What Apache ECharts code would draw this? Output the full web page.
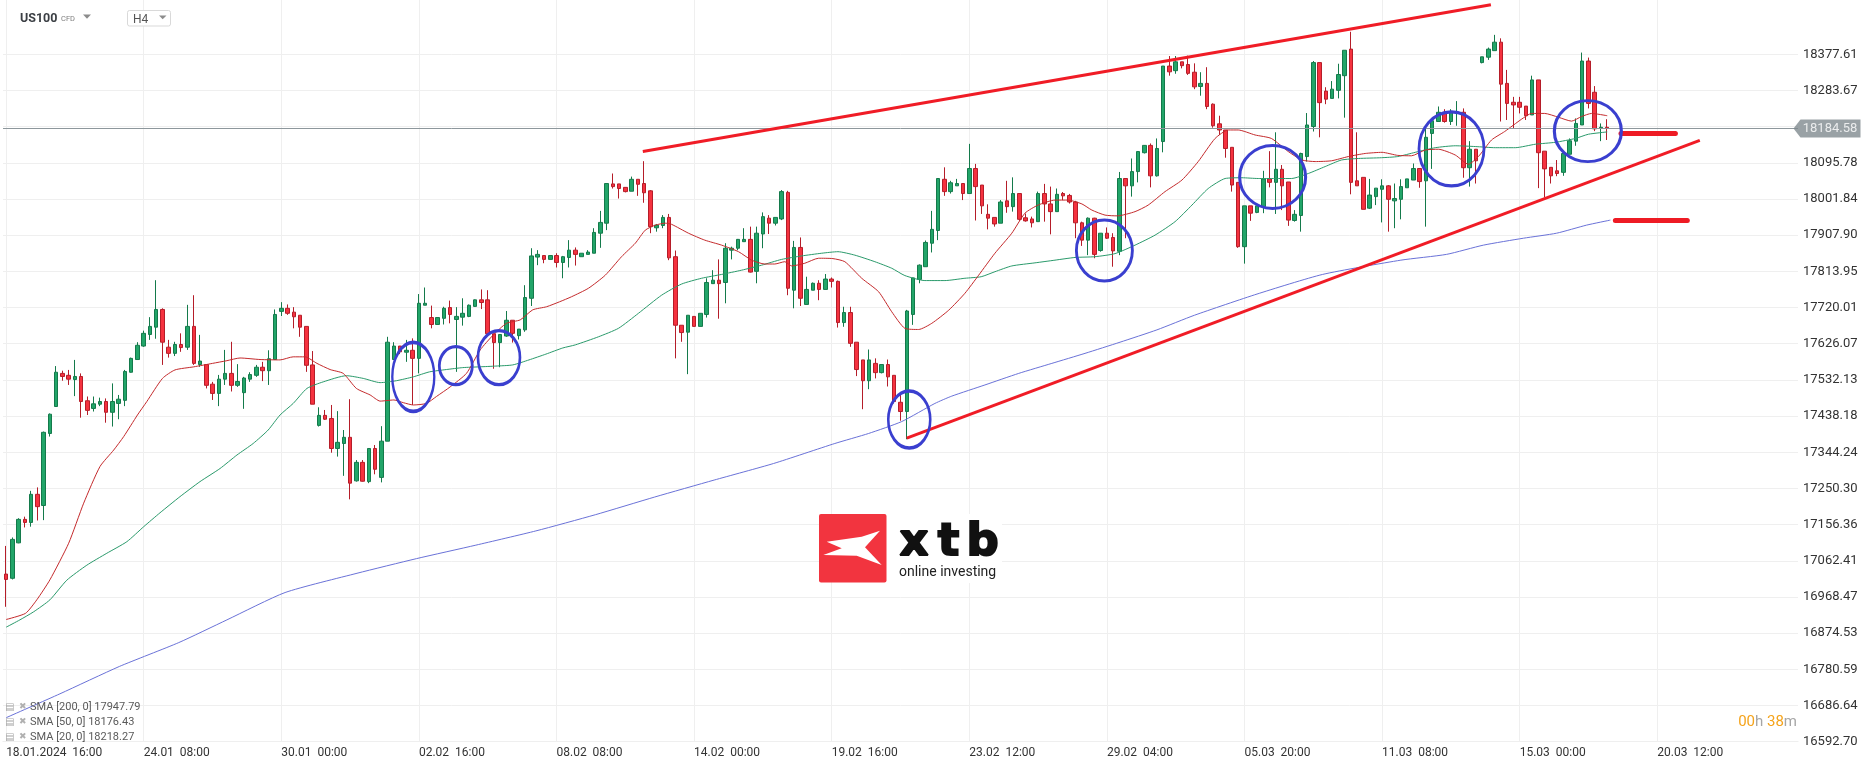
<!DOCTYPE html>
<html><head><meta charset="utf-8">
<script src="https://cdn.jsdelivr.net/npm/echarts@6/dist/echarts.min.js"></script>
<style>html,body{margin:0;padding:0;background:#fff}#c{width:1866px;height:767px}</style>
</head><body><div id="c"></div>
<script>
// ---------- DATA ----------
const tickLabels = ["18.01.2024  16:00","24.01  08:00","30.01  00:00","02.02  16:00","08.02  08:00","14.02  00:00","19.02  16:00","23.02  12:00","29.02  04:00","05.03  20:00","11.03  08:00","15.03  00:00","20.03  12:00"];
const yTicks = [16592.70,16686.64,16780.59,16874.53,16968.47,17062.41,17156.36,17250.30,17344.24,17438.18,17532.13,17626.07,17720.01,17813.95,17907.90,18001.84,18095.78,18189.73,18283.67,18377.61];
const currentPrice = 18184.58;

const opens = [17028,17017,17109,17170,17162,17235,17206,17393,17463,17549,
17544,17533,17541,17478,17458,17469,17476,17448,17471,17479,
17552,17585,17620,17650,17669,17715,17617,17601,17624,17617,
17671,17572,17572,17521,17497,17534,17549,17518,17499,17534,
17544,17565,17556,17585,17710,17718,17708,17700,17671,17571,
17414,17440,17432,17354,17367,17383,17270,17318,17268,17354,
17279,17373,17585,17620,17604,17609,17588,17726,17694,17676,
17692,17720,17689,17695,17697,17723,17740,17740,17652,17629,
17646,17687,17647,17662,17744,17851,17855,17845,17855,17837,
17850,17869,17852,17858,17861,17913,17939,18041,18041,18032,
18022,18053,18042,18023,17927,17933,17954,17852,17674,17656,
17697,17671,17702,17782,17791,17785,17869,17874,17891,17897,
17814,17911,17952,17939,17950,18019,17765,17876,17728,17765,
17783,17767,17794,17788,17681,17707,17630,17584,17530,17575,
17551,17572,17544,17474,17450,17702,17793,17826,17887,17920,
18053,18021,18036,18042,18016,18081,18038,17962,17954,17939,
17997,17982,18016,17953,17950,17943,18016,17989,17969,18016,
18011,17994,17940,17895,17952,17868,17913,17902,17866,18055,
18036,18073,18122,18141,18062,18151,18347,18335,18358,18351,
18331,18294,18302,18248,18197,18181,18136,18045,17878,17984,
17967,17982,18054,18045,18079,18046,17946,17959,18112,18190,
18356,18282,18263,18284,18322,18391,18049,18058,17978,18008,
18027,18036,17997,18001,18031,18051,18081,18049,18172,18203,
18227,18203,18224,18227,18083,18131,18356,18370,18387,18409,
18302,18253,18253,18243,18220,18311,18126,18084,18075,18071,
18118,18152,18194,18360,18279,18185,18188];
const closes = [17014,17118,17170,17162,17235,17203,17396,17443,17552,17541,
17534,17541,17476,17453,17470,17476,17448,17476,17482,17554,
17588,17622,17653,17671,17715,17630,17601,17624,17616,17671,
17575,17581,17518,17497,17534,17549,17518,17528,17537,17546,
17565,17556,17587,17702,17718,17705,17696,17669,17570,17469,
17440,17430,17354,17370,17383,17264,17318,17269,17354,17300,
17373,17630,17620,17605,17609,17588,17731,17731,17676,17694,
17718,17702,17697,17705,17726,17740,17733,17652,17629,17650,
17687,17653,17664,17746,17854,17858,17845,17855,17837,17852,
17869,17858,17861,17864,17915,17941,18042,18034,18029,18021,
18053,18040,18018,17930,17934,17954,17849,17674,17655,17700,
17671,17705,17785,17791,17782,17874,17874,17897,17897,17812,
17913,17956,17939,17954,18021,17770,17876,17744,17767,17783,
17767,17794,17788,17681,17707,17627,17559,17530,17584,17551,
17572,17540,17476,17450,17711,17797,17830,17889,17923,18055,
18021,18044,18042,18016,18081,18034,17984,17952,17937,17994,
17982,18016,17949,17945,17940,18016,17989,17969,18014,18010,
17994,17940,17895,17952,17858,17913,17900,17867,18055,18036,
18073,18125,18141,18062,18133,18347,18332,18358,18348,18328,
18293,18302,18242,18192,18181,18133,18038,17878,17984,17965,
17984,18054,18045,18079,18036,17947,17962,18120,18194,18356,
18252,18261,18287,18325,18388,18045,18036,17975,18012,18030,
18036,18001,18003,18034,18054,18081,18047,18162,18205,18227,
18203,18227,18227,18083,18131,18101,18371,18391,18409,18300,
18250,18246,18240,18218,18311,18122,18080,18062,18068,18120,
18153,18198,18360,18250,18184,18188,18185];
const lows = [16943,17014,17108,17149,17151,17167,17168,17385,17463,17530,
17519,17490,17434,17441,17450,17464,17421,17411,17430,17464,
17551,17585,17618,17636,17639,17571,17590,17594,17605,17610,
17571,17566,17510,17480,17464,17519,17502,17514,17457,17527,
17540,17529,17519,17584,17698,17701,17666,17644,17553,17469,
17411,17428,17343,17333,17283,17222,17268,17268,17264,17287,
17266,17373,17585,17599,17579,17467,17549,17726,17666,17675,
17676,17679,17553,17673,17695,17722,17716,17652,17561,17565,
17644,17629,17637,17657,17724,17830,17835,17845,17824,17796,
17824,17829,17852,17858,17861,17875,17921,18029,18003,18019,
18022,18010,17992,17913,17917,17926,17843,17588,17631,17547,
17671,17671,17694,17782,17691,17731,17845,17869,17891,17811,
17783,17874,17911,17933,17947,17752,17718,17724,17728,17765,
17739,17767,17772,17668,17670,17618,17542,17456,17508,17536,
17549,17515,17471,17426,17378,17675,17783,17826,17863,17895,
18010,18016,18036,17999,18016,17946,17963,17923,17930,17939,
17966,17969,17945,17943,17928,17943,17943,17910,17969,17999,
17990,17900,17880,17856,17848,17865,17898,17826,17856,17900,
18008,18045,18120,18032,18060,18123,18322,18327,18341,18324,
18287,18270,18235,18187,18168,18109,18021,17875,17834,17945,
17965,17965,18032,17963,17973,17932,17943,17917,18099,18177,
18162,18248,18263,18263,18213,18014,18036,17975,17976,17986,
17941,17917,17926,17949,18031,18051,18031,17930,18080,18203,
18200,18194,18192,18057,18034,18042,18354,18363,18387,18203,
18207,18185,18224,18207,18220,18030,18006,18042,18061,18062,
18118,18140,18194,18237,18178,18152,18155];
const highs = [17101,17123,17173,17177,17244,17253,17398,17445,17568,17556,
17558,17584,17549,17489,17489,17486,17484,17523,17493,17558,
17590,17630,17660,17695,17791,17718,17636,17631,17653,17727,
17752,17649,17573,17527,17545,17610,17631,17573,17540,17552,
17571,17579,17609,17715,17734,17728,17721,17700,17671,17607,
17461,17454,17467,17451,17402,17482,17324,17324,17354,17363,
17412,17644,17630,17620,17636,17640,17755,17772,17725,17694,
17722,17738,17721,17744,17728,17741,17767,17765,17652,17650,
17711,17687,17664,17778,17874,17869,17855,17855,17861,17854,
17895,17876,17861,17869,17926,17971,18042,18068,18041,18032,
18060,18053,18100,18025,17937,17960,17963,17868,17674,17700,
17697,17705,17796,17817,17845,17887,17878,17898,17926,17930,
17930,17967,17960,17954,18025,18023,17893,17902,17800,17785,
17791,17807,17798,17790,17722,17722,17630,17584,17611,17588,
17572,17585,17544,17497,17714,17797,17832,17894,17971,18055,
18084,18049,18054,18042,18145,18093,18038,17988,17954,17999,
18049,18058,18016,17964,17956,18021,18041,18034,18029,18020,
18015,17997,17943,17954,17953,17913,17928,17913,18072,18055,
18107,18126,18142,18146,18159,18347,18373,18373,18358,18374,
18354,18331,18344,18250,18218,18181,18136,18045,17984,17984,
17984,18075,18126,18175,18090,18046,17973,18122,18225,18360,
18356,18292,18308,18353,18388,18436,18175,18058,18054,18030,
18053,18038,18042,18053,18054,18094,18081,18185,18210,18242,
18235,18235,18256,18237,18152,18131,18371,18395,18428,18419,
18337,18267,18267,18243,18322,18311,18126,18084,18103,18122,
18159,18211,18382,18369,18295,18198,18209];

// SMA points: [candle index, price]
const sma20 = [[0,16910],[3.1,16926],[4.9,16961],[7,17013],[10,17108],[12.4,17212],[15,17307],[17.2,17350],[18.8,17385],[21,17441],[22.5,17476],[25,17536],[27,17558],[30,17566],[33,17575],[35.3,17582],[37.4,17589],[40.6,17585],[43.8,17584],[45.9,17592],[47.8,17592],[49.7,17575],[51.8,17559],[53.9,17549],[56,17510],[58.2,17493],[59.8,17477],[62,17480],[63.5,17473],[65.1,17467],[67.2,17471],[68.8,17489],[71,17514],[73.6,17549],[75.8,17610],[77.9,17649],[80,17679],[82.2,17688],[84.2,17714],[86.4,17722],[88.5,17735],[90.4,17748],[93.1,17770],[95.8,17804],[98.4,17852],[100.6,17887],[102.2,17921],[103.8,17934],[105.4,17939],[106.4,17936],[109.1,17913],[111.7,17895],[114.4,17882],[117.1,17865],[119.2,17843],[121.3,17833],[122.9,17833],[124.5,17839],[125.6,17828],[127.7,17835],[129.9,17848],[132.2,17847],[134.1,17839],[136.8,17796],[139.5,17761],[141.6,17709],[143.7,17666],[145.9,17663],[148,17679],[150.7,17713],[153.3,17757],[155.5,17804],[158.1,17861],[160.8,17913],[162.9,17965],[165,17986],[167.7,17999],[169.8,17999],[172,17989],[173.6,17973],[175.7,17960],[177.7,17958],[180.5,17969],[182.6,17986],[185.3,18021],[188,18051],[190.6,18099],[193.3,18159],[195.4,18181],[197,18181],[199.7,18168],[202.3,18159],[205,18125],[207.2,18103],[209.3,18099],[211.9,18101],[214.6,18112],[217.3,18120],[220,18123],[222.5,18115],[224.7,18114],[226.9,18129],[229,18131],[231.7,18116],[233.8,18092],[235.4,18112],[237.5,18155],[239.6,18177],[242.3,18209],[243.9,18224],[246,18224],[248.2,18214],[250.3,18204],[251.9,18216],[253.5,18224],[256,18218]];
const sma50 = [[0,16890],[2.2,16909],[4.4,16930],[7,16961],[9.7,17012],[12.9,17051],[16.1,17082],[19.3,17112],[22,17151],[24.6,17187],[27.8,17229],[31,17268],[34.2,17302],[36.9,17337],[39.5,17367],[41.9,17402],[43.8,17441],[45.9,17471],[48.1,17510],[50.7,17527],[54.4,17543],[57.1,17536],[59.8,17525],[62.4,17530],[65.1,17540],[67.7,17553],[70.4,17559],[73,17564],[75.7,17566],[78.3,17568],[81,17571],[83.6,17584],[86.3,17599],[89,17615],[91,17623],[94.7,17644],[97.9,17666],[101.1,17705],[104.8,17752],[108,17781],[111.2,17796],[114.4,17806],[117.6,17817],[120.8,17830],[124,17845],[127.2,17854],[130.4,17861],[133,17865],[135.7,17856],[138.9,17839],[141.6,17822],[143.7,17803],[146.9,17790],[150.1,17790],[153.3,17796],[155.9,17800],[158.1,17813],[160.8,17828],[164.5,17836],[167.7,17843],[170.9,17850],[174.1,17852],[177.3,17860],[180.5,17882],[183.7,17908],[186.9,17943],[189.6,17986],[192.2,18029],[194.9,18055],[197.6,18057],[200.2,18055],[202.9,18055],[205.5,18055],[208.2,18068],[210.9,18086],[213.5,18103],[216.2,18107],[219.9,18109],[222.5,18112],[225.3,18123],[228.5,18135],[231.7,18140],[234.9,18138],[238.1,18135],[241.3,18135],[244.5,18144],[247.7,18149],[250.9,18159],[253,18170],[256,18176]];
const sma200 = [[0,16655],[8.6,16717],[18.1,16788],[27.6,16850],[35.3,16909],[44.6,16980],[56.1,17030],[65.6,17068],[75.1,17103],[84.7,17140],[94.2,17182],[103.7,17228],[113.2,17272],[122.7,17315],[132.5,17367],[137.9,17393],[143.2,17424],[148.5,17471],[151.2,17490],[156.5,17519],[161.9,17549],[167.2,17575],[172.5,17601],[178.1,17630],[184,17662],[190,17700],[200,17755],[210.5,17806],[223,17843],[230.3,17858],[236.2,17882],[242.6,17900],[247.9,17913],[252.7,17934],[256.5,17947]];
const legendRows = ["SMA [200, 0] 17947.79","SMA [50, 0] 18176.43","SMA [20, 0] 18218.27"];

// Drawn annotations (in data units)
const trendLines = [[[101.8,18125],[237.4,18506]],[[144.0,17381],[270.8,18154]]];
const levelLines = [[[258.2,18172],[266.9,18172]],[[257.3,17946],[268.8,17946]]];
const circleCenters = [[65.1,17540],[71.9,17569],[78.8,17590],[144.4,17429],[175.6,17868],[202.5,18059],[231.1,18132],[252.9,18178]];

// ---------- LAYOUT / STYLE ----------
const slotCount = 287;
const tickStep = 22;
const circleSizes = [[42,69],[33,38],[42,54],[42,57],[56,61],[66,63],[65,74],[67,61]];
const categories = Array.from({length: slotCount}, (_, i) => 'c' + i);
const candles = opens.map((o, i) => [o, closes[i], lows[i], highs[i]]);
const vGrid = tickLabels.map((_, k) => k * tickStep);
const ellipsePath = 'path://M50,0 C77.6,0 100,22.4 100,50 C100,77.6 77.6,100 50,100 C22.4,100 0,77.6 0,50 C0,22.4 22.4,0 50,0 Z';
const F = 'Roboto, "Noto Sans", sans-serif';

const chart = echarts.init(document.getElementById('c'), null, {renderer: 'canvas'});

const graphicEls = [
  // header
  {type:'text', x:20, y:19, z:100, style:{text:'US100', font:'bold 12.5px ' + F, fill:'#3b3f44', verticalAlign:'middle'}},
  {type:'text', x:61, y:19.5, z:100, style:{text:'CFD', font:'7.5px ' + F, fill:'#7d7d7d', verticalAlign:'middle'}},
  {type:'polygon', z:100, shape:{points:[[83,14.5],[91,14.5],[87,18.8]]}, style:{fill:'#8c8c8c'}},
  {type:'rect', z:100, shape:{x:127.5, y:10.5, width:43, height:15.5, r:2}, style:{fill:'#fff', stroke:'#d9d9d9', lineWidth:1}},
  {type:'text', x:133, y:19.5, z:101, style:{text:'H4', font:'12px ' + F, fill:'#555', verticalAlign:'middle'}},
  {type:'polygon', z:101, shape:{points:[[159,15.5],[166.5,15.5],[162.7,19.3]]}, style:{fill:'#8c8c8c'}},
  // logo
  {type:'rect', z:100, shape:{x:886, y:514, width:116, height:69}, style:{fill:'#fff'}},
  {type:'rect', z:101, shape:{x:819, y:514, width:67.5, height:68.5, r:2}, style:{fill:'#f2343f'}},
  {type:'polygon', z:102, shape:{points:[[826.7,541.7],[861.7,536.7],[880,530.7],[865,547.3],[881.7,565],[856.7,555.7],[823.3,555],[841.7,548.3]]}, style:{fill:'#fff'}},
  {type:'text', x:914, y:543, z:102, style:{text:'x', font:'bold 45px "DejaVu Sans"', fill:'#111', stroke:'#111', lineWidth:2, align:'center', verticalAlign:'middle'}},
  {type:'text', x:948.5, y:543, z:102, style:{text:'t', font:'bold 45px "DejaVu Sans"', fill:'#111', stroke:'#111', lineWidth:2, align:'center', verticalAlign:'middle'}},
  {type:'text', x:982.5, y:543, z:102, style:{text:'b', font:'bold 45px "DejaVu Sans"', fill:'#111', stroke:'#111', lineWidth:2, align:'center', verticalAlign:'middle'}},
  {type:'text', x:899, y:572, z:102, style:{text:'online investing', font:'14px ' + F, fill:'#222', verticalAlign:'middle'}},
  // countdown
  {type:'text', x:1797, y:722, z:100, style:{text:'{o|00}{g|h} {o|38}{g|m}', align:'right', verticalAlign:'middle', font:'15px ' + F,
    rich:{o:{fill:'#f5a31a', font:'15px ' + F}, g:{fill:'#a6a6a6', font:'15px ' + F}}}}
];
legendRows.forEach((t, k) => {
  const y = 707 + k * 15;
  graphicEls.push({type:'text', x:5, y:y, z:100, style:{text:'▤', font:'10px "DejaVu Sans"', fill:'#a8a8a8', verticalAlign:'middle'}});
  graphicEls.push({type:'text', x:19, y:y, z:100, style:{text:'✖', font:'9px "DejaVu Sans"', fill:'#b0b0b0', verticalAlign:'middle'}});
  graphicEls.push({type:'text', x:30, y:y, z:100, style:{text:t, font:'11px ' + F, fill:'#5a5a5a', verticalAlign:'middle'}});
});

const option = {
  animation: false,
  backgroundColor: '#ffffff',
  grid: {left: 3, right: 68, top: 0, bottom: 25.3, outerBoundsMode: 'none', containLabel: false},
  xAxis: [
    {type:'category', data: categories, boundaryGap: true,
     axisLine:{show:true, lineStyle:{color:'#ececec', width:1}}, axisTick:{show:false}, splitLine:{show:false},
     axisLabel:{interval:(i) => i % tickStep === 0 && i / tickStep < tickLabels.length,
       formatter:(v, i) => tickLabels[i / tickStep] || '', align:'left', color:'#333', fontSize:12, fontFamily:F, margin:5}},
    {type:'value', min:-0.5, max:slotCount - 0.5, show:false}
  ],
  yAxis: {type:'value', position:'right', min:16592.70, max:18518.5, scale:true,
    axisLine:{show:false}, axisTick:{show:false}, splitLine:{show:false},
    axisLabel:{customValues: yTicks.filter(v => Math.abs(v - currentPrice) > 20), formatter:(v) => Number(v).toFixed(2),
      color:'#333', fontSize:13, fontFamily:F, margin:5}},
  graphic: {elements: graphicEls},
  series: [
    {type:'line', name:'grid', xAxisIndex:1, yAxisIndex:0, data:[], silent:true, z:0,
     markLine:{silent:true, z:1, symbol:['none','none'], label:{show:false}, animation:false,
       lineStyle:{color:'#efefef', width:1, type:'solid'},
       data:[...yTicks.map(v => ({yAxis:v})), ...vGrid.map(i => ({xAxis:i}))]}},
    {type:'candlestick', name:'US100', xAxisIndex:0, yAxisIndex:0, data:candles, barWidth:4, z:2, silent:true,
     itemStyle:{color:'#22a569', color0:'#f5323f', borderColor:'#147a4b', borderColor0:'#b51d29', borderWidth:1}},
    {type:'line', name:'SMA200', xAxisIndex:1, data:sma200, showSymbol:false, silent:true, z:3, smooth:0.2,
     lineStyle:{color:'#6a72d8', width:1}},
    {type:'line', name:'SMA50', xAxisIndex:1, data:sma50, showSymbol:false, silent:true, z:3, smooth:0.2,
     lineStyle:{color:'#2a9a6b', width:1}},
    {type:'line', name:'SMA20', xAxisIndex:1, data:sma20, showSymbol:false, silent:true, z:3, smooth:0.2,
     lineStyle:{color:'#c42a2c', width:1}},
    {type:'line', name:'drawings', xAxisIndex:1, data:[], silent:true, z:6,
     markLine:{silent:true, z:6, symbol:['none','none'], label:{show:false}, animation:false,
       data:[
         ...trendLines.map(p => [{coord:p[0], lineStyle:{color:'#f01c26', width:3, type:'solid'}}, {coord:p[1]}]),
         ...levelLines.map(p => [{coord:p[0], lineStyle:{color:'#ee1b24', width:5, type:'solid', cap:'round'}}, {coord:p[1]}])
       ]}},
    {type:'scatter', name:'circles', xAxisIndex:1, silent:true, z:7, clip:false, symbol: ellipsePath,
     data: circleCenters.map((c, i) => ({value:c, symbolSize:circleSizes[i]})),
     itemStyle:{color:'rgba(0,0,0,0)', borderColor:'#3a3fcf', borderWidth:3, opacity:1}},
    {type:'scatter', name:'price', xAxisIndex:1, silent:true, z:8, clip:false,
     symbol:'path://M0,9 L7,0 L67,0 L67,18 L7,18 Z', symbolSize:[67,18], symbolOffset:[29,0],
     data:[[slotCount - 0.5, currentPrice]],
     itemStyle:{color:'#7f8a8f'},
     label:{show:true, position:'inside', formatter:() => currentPrice.toFixed(2), color:'#fff', fontSize:13, fontFamily:F, offset:[3,0]},
     markLine:{silent:true, z:4, symbol:['none','none'], label:{show:false}, animation:false,
       lineStyle:{color:'#8d979c', width:1, type:'solid'}, data:[{yAxis:currentPrice}]}}
  ]
};
chart.setOption(option);
</script>
</body></html>
